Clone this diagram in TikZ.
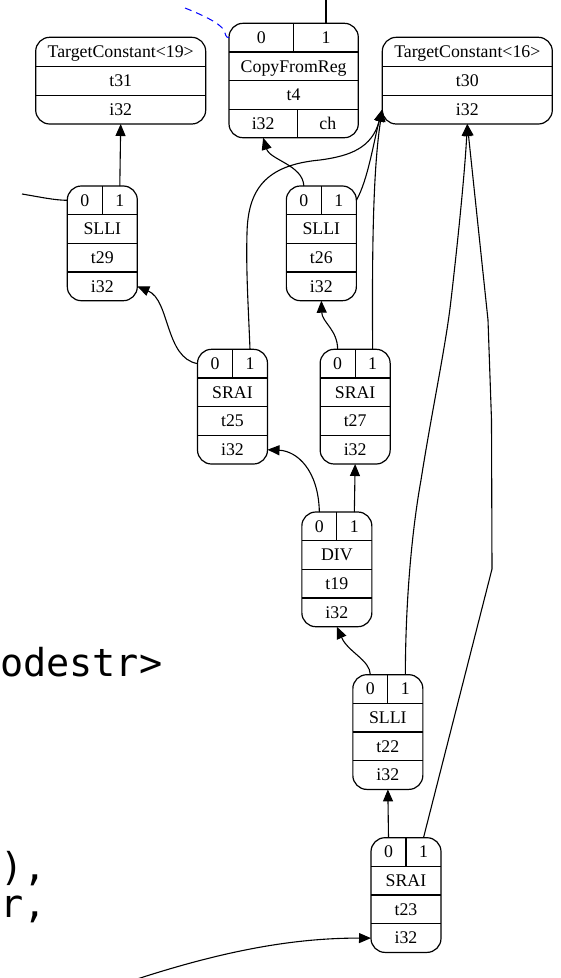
\documentclass[tikz,border=0pt]{standalone}
\usepackage{fontspec}
\setmainfont{Liberation Serif}
\newfontfamily\codefont{DejaVu Sans Mono}
\usetikzlibrary{arrows.meta,calc}

\tikzset{
  recbox/.style={draw, line width=1.2pt, rounded corners=14pt, inner sep=0pt, outer sep=0pt},
  cellline/.style={line width=1.2pt},
  celltext/.style={anchor=base, inner sep=0pt, outer sep=0pt, font=\fontsize{17.8}{20}\selectfont},
  dep/.style={line width=1.1pt, -{Triangle[length=12pt,width=10pt]}},
  plainedge/.style={line width=1.1pt},
  chainedge/.style={blue, line width=1pt, dash pattern=on 7pt off 5pt},
  codetext/.style={anchor=base west, inner sep=0pt, outer sep=0pt, font=\codefont\fontsize{38.5}{40}\selectfont}
}

% operation record: name, centre x, top y, opcode, value id
\newcommand\opnode[5]{%
  \node[recbox, minimum width=70pt, minimum height=114.7pt, anchor=north] (#1) at (#2,#3) {};
  \draw[cellline] (#1.north) -- ($(#1.north)+(0,28.675)$);
  \foreach \k in {1,2,3}
    \draw[cellline] ($(#1.north west)+(0,\k*28.675)$) -- ($(#1.north east)+(0,\k*28.675)$);
  \node[celltext] (#1-p0) at ($(#1.north)+(-17.5,20.1)$) {0};
  \node[celltext] (#1-p1) at ($(#1.north)+(17.5,20.1)$) {1};
  \node[celltext] (#1-op) at ($(#1.north)+(0,48.8)$) {#4};
  \node[celltext] (#1-id) at ($(#1.north)+(0,77.5)$) {#5};
  \node[celltext] (#1-vt) at ($(#1.north)+(0,106.2)$) {i32};
}

% constant record: name, centre x, top y, label, value id
\newcommand\constnode[5]{%
  \node[recbox, minimum width=170pt, minimum height=86.7pt, anchor=north] (#1) at (#2,#3) {};
  \foreach \k in {1,2}
    \draw[cellline] ($(#1.north west)+(0,\k*28.9)$) -- ($(#1.north east)+(0,\k*28.9)$);
  \node[celltext] (#1-op) at ($(#1.north)+(0,20.3)$) {#4};
  \node[celltext] (#1-id) at ($(#1.north)+(0,49.2)$) {#5};
  \node[celltext] (#1-vt) at ($(#1.north)+(0,78.1)$) {i32};
}

\begin{document}
\begin{tikzpicture}[x=1pt,y=-1pt]
\useasboundingbox (0,0) rectangle (561,978);
\clip (0,0) rectangle (561,978);

% constants
\constnode{tc19}{120.7}{37.3}{TargetConstant<19>}{t31}
\constnode{tc16}{467.3}{37.3}{TargetConstant<16>}{t30}

% CopyFromReg
\node[recbox, minimum width=129.3pt, minimum height=114.4pt, anchor=north] (cfr) at (293.65,23.3) {};
\draw[cellline] (cfr.north) -- ($(cfr.north)+(0,28.6)$);
\foreach \k in {1,2,3}
  \draw[cellline] ($(cfr.north west)+(0,\k*28.6)$) -- ($(cfr.north east)+(0,\k*28.6)$);
\draw[cellline] ($(cfr.south)+(3.65,0)$) -- ($(cfr.south)+(3.65,-28.6)$);
\node[celltext] (cfr-p0) at ($(cfr.north)+(-32.3,20.1)$) {0};
\node[celltext] (cfr-p1) at ($(cfr.north)+(32.3,20.1)$) {1};
\node[celltext] (cfr-op) at ($(cfr.north)+(0,48.7)$) {CopyFromReg};
\node[celltext] (cfr-id) at ($(cfr.north)+(0,77.3)$) {t4};
\node[celltext] (cfr-vt) at ($(cfr.north)+(-30.5,105.9)$) {i32};
\node[celltext] (cfr-ch) at ($(cfr.north)+(34.15,105.9)$) {ch};

% operations
\opnode{t29}{102.3}{186}{SLLI}{t29}
\opnode{t26}{321.35}{186}{SLLI}{t26}
\opnode{t25}{232.5}{349.3}{SRAI}{t25}
\opnode{t27}{355.15}{349.3}{SRAI}{t27}
\opnode{t19}{336.85}{512}{DIV}{t19}
\opnode{t22}{387.85}{674.7}{SLLI}{t22}
\opnode{t23}{406}{837.7}{SRAI}{t23}

% partial code label
\node[codetext] (code1) at (0,676) {odestr>};
\node[codetext] (code2) at (0,880) {),};
\node[codetext] (code3) at (0,917) {r,};

% port points
\coordinate (tc16-w) at ($(tc16.south west)+(0,-14.5)$);
\coordinate (offL) at (22,194);
\coordinate (offT) at (325.95,-3);
\coordinate (offB) at (185,8);
\coordinate (offD) at (128,982);

% dependency edges
\draw[dep] ($(t29.north)+(17.5,0)$) -- (tc19.south);
\draw[plainedge] (offL) .. controls (40,197) and (55,200.3) .. ($(t29.north west)+(0,14.3)$);
\draw[plainedge] ($(cfr.north)+(32.3,0)$) -- (offT);
\draw[chainedge] (offB) .. controls (210,18) and (224,26) .. (225,33)
  .. controls (226,37) and (227.5,38) .. ($(cfr.north west)+(0,14.3)$);

\draw[dep] ($(t26.north)+(-17.5,0)$) .. controls (303,165) and (270,160) .. ($(cfr.south)+(-30.5,0)$);
\draw[dep] ($(t26.north east)+(0,14.3)$) .. controls (368,180) and (374,140) .. (tc16-w);
\draw[dep] ($(t25.north)+(17.5,0)$) .. controls (248,300) and (246,270) .. (247,233)
  .. controls (248,190) and (265,165) .. (320,160)
  .. controls (350,156) and (372,148) .. (tc16-w);
\draw[dep] ($(t27.north)+(17.5,0)$) .. controls (372,250) and (373,170) .. (tc16-w);
\draw[dep] ($(t27.north)+(-17.5,0)$) .. controls (337.6,330) and (322,322) .. (t26.south);
\draw[dep] ($(t25.north west)+(0,14.3)$) .. controls (165,358) and (170,300) .. ($(t29.south east)+(0,-14.3)$);

\draw[dep] ($(t19.north)+(-17.5,0)$) .. controls (318.5,470) and (297,451) .. ($(t25.south east)+(0,-14.3)$);
\draw[dep] ($(t19.north)+(17.5,0)$) -- (t27.south);

\draw[dep] ($(t22.north)+(-17.5,0)$) .. controls (370,660) and (348,652) .. (t19.south);
\draw[dep] ($(t22.north)+(17.5,0)$) .. controls (405.5,600) and (412,530) .. (421,480)
  .. controls (432,410) and (446,345) .. (451,300)
  .. controls (458,240) and (465,170) .. (tc16.south);

\draw[dep] ($(t23.north)+(-17.5,0)$) -- (t22.south);
\draw[dep] ($(t23.north)+(17.5,0)$) -- (492,569) -- (491.5,420) -- (488,320) -- (tc16.south);
\draw[dep] (offD) .. controls (230,948) and (300,938) .. ($(t23.south west)+(0,-14.3)$);
\end{tikzpicture}
\end{document}
